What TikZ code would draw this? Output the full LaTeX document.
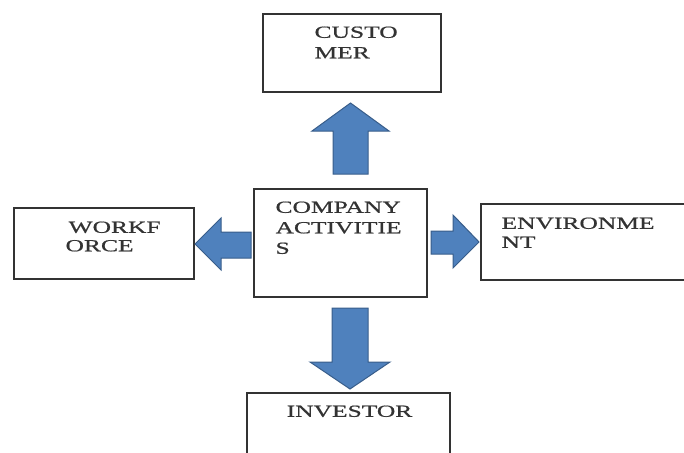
\documentclass[tikz,border=0pt]{standalone}
\usepackage{fontspec}
\setmainfont{Liberation Serif}[FakeStretch=1.5,FakeBold=0.8]
\usetikzlibrary{calc}

\definecolor{arrowblue}{HTML}{4F81BD}
\definecolor{arrowedge}{HTML}{385D8A}
\definecolor{boxedge}{HTML}{333333}
\definecolor{labeltext}{HTML}{333333}

\tikzset{
  box/.style={draw=boxedge,line width=1.3pt,shape=rectangle,inner sep=0pt},
  boxlabel/.style={anchor=north west,inner sep=0pt,align=left,text=labeltext,
    font=\fontsize{17}{20.5}\selectfont},
  blockarrow/.style={fill=arrowblue,draw=arrowedge,line width=1pt,line join=miter}
}

\begin{document}
\begin{tikzpicture}[x=1pt,y=-1pt]
\useasboundingbox (0,0) rectangle (684,452);
\clip (0,0) rectangle (684,452);
%Boxes
\path
 (352,53) node[box,minimum width=178pt,minimum height=78pt] (customer) {}
 (340.5,243) node[box,minimum width=173pt,minimum height=108pt] (company) {}
 (104,243.5) node[box,minimum width=180pt,minimum height=71pt] (workforce) {}
 (592,242) node[box,minimum width=222pt,minimum height=76pt] (environment) {}
 (348.5,432) node[box,minimum width=203pt,minimum height=78pt] (investor) {}
 ;
%Labels
\node[boxlabel] (customertext) at ($(customer.north west)+(52,13)$) {CUSTO\\MER};
\node[boxlabel] (companytext) at ($(company.north west)+(22,13)$) {COMPANY\\ACTIVITIE\\S};
\node[boxlabel,font=\fontsize{17}{18.5}\selectfont] (workforcetext) at ($(workforce.north west)+(52,14)$) {\hspace{3pt}WORKF\\ORCE};
\node[boxlabel,font=\fontsize{17}{19}\selectfont] (environmenttext) at ($(environment.north west)+(21,14)$) {ENVIRONME\\NT};
\node[boxlabel,anchor=north] (investortext) at ($(investor.north)+(1,13)$) {INVESTOR};
%Arrows
\filldraw[blockarrow] (350.5,103) -- (389,131) -- (368,131) -- (368,174)
  -- (333,174) -- (333,131) -- (312,131) -- cycle;
\filldraw[blockarrow] (195,244) -- (221,218) -- (221,232) -- (251,232)
  -- (251,258) -- (221,258) -- (221,270) -- cycle;
\filldraw[blockarrow] (479,242) -- (453,215) -- (453,231) -- (431,231)
  -- (431,254) -- (453,254) -- (453,268) -- cycle;
\filldraw[blockarrow] (350,389) -- (390,362) -- (368,362) -- (368,308)
  -- (332,308) -- (332,362) -- (310,362) -- cycle;
\end{tikzpicture}
\end{document}
